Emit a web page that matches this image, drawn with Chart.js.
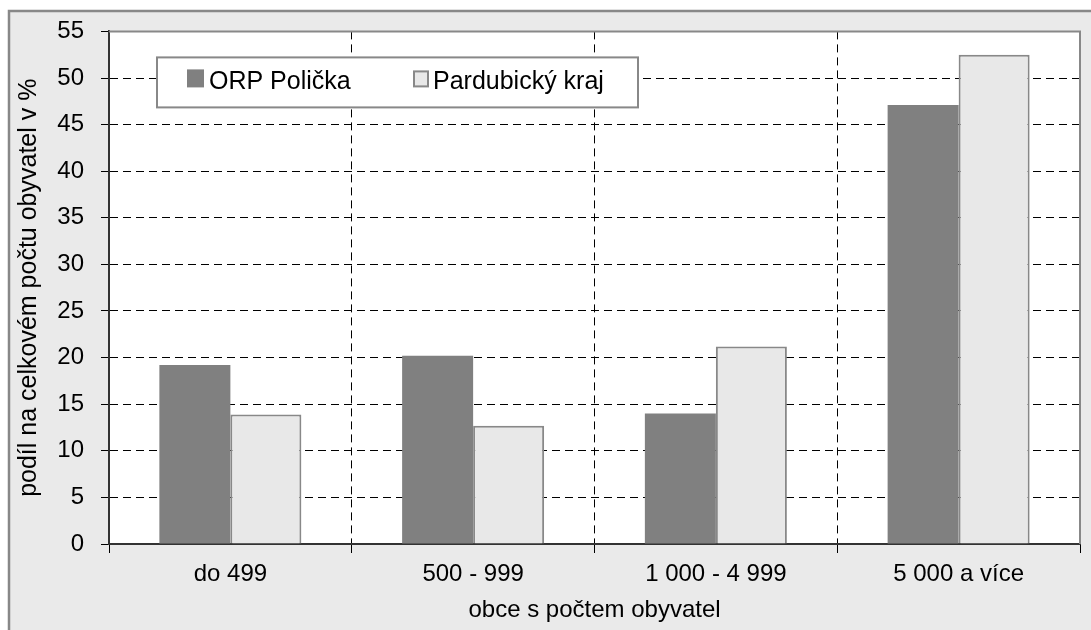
<!DOCTYPE html>
<html>
<head>
<meta charset="utf-8">
<script src="https://cdn.jsdelivr.net/npm/chart.js@4.4.0/dist/chart.umd.min.js"></script>
<style>
  body { margin: 0; background: #fff; }
  #wrap { width: 1091px; height: 630px; }
</style>
</head>
<body>
<div id="wrap"><canvas id="graf"></canvas></div>
<script>
// data z grafu
const kategorie = ['do 499', '500 - 999', '1 000 - 4 999', '5 000 a více'];
const orp_policka = [19.2, 20.2, 14.0, 47.1];
const pardubicky_kraj = [13.9, 12.7, 21.2, 52.5];
const nazvy_rad = ['ORP Polička', 'Pardubický kraj'];
const osa_y_max = 55;
const osa_y_krok = 5;

const pismo = '"Liberation Sans", Arial, sans-serif';
Chart.defaults.font.family = pismo;
Chart.defaults.color = '#000';

// sede pozadi, ramecek a bila plocha grafu
const pozadi = {
    id: 'pozadi',
    beforeDraw(chart) {
        const ctx = chart.ctx;
        const a = chart.chartArea;
        ctx.save();
        ctx.fillStyle = '#fff';
        ctx.fillRect(0, 0, chart.width, chart.height);
        ctx.fillStyle = '#eaeaea';
        ctx.fillRect(8, 10, chart.width, chart.height);
        ctx.strokeStyle = '#888';
        ctx.lineWidth = 2.5;
        ctx.beginPath();
        ctx.moveTo(9, chart.height);
        ctx.lineTo(9, 11);
        ctx.lineTo(chart.width, 11);
        ctx.stroke();
        ctx.fillStyle = '#fff';
        ctx.fillRect(a.left, a.top, a.right - a.left, a.bottom - a.top);
        ctx.restore();
    },
    afterDraw(chart) {
        // horni a prava hrana plochy
        const ctx = chart.ctx;
        const a = chart.chartArea;
        ctx.save();
        ctx.strokeStyle = '#888';
        ctx.lineWidth = 2;
        ctx.beginPath();
        ctx.moveTo(a.left, a.top);
        ctx.lineTo(a.right, a.top);
        ctx.lineTo(a.right, a.bottom);
        ctx.stroke();
        ctx.restore();
    }
};

// legenda uvnitr plochy grafu
const legenda = {
    id: 'legenda',
    afterDatasetsDraw(chart) {
        const ctx = chart.ctx;
        const a = chart.chartArea;
        const x = a.left + 48, y = a.top + 26, w = 481, h = 50;
        ctx.save();
        ctx.fillStyle = '#fff';
        ctx.fillRect(x, y, w, h);
        ctx.strokeStyle = '#888';
        ctx.lineWidth = 2;
        ctx.strokeRect(x, y, w, h);
        ctx.font = '25px ' + pismo;
        ctx.textBaseline = 'middle';
        ctx.fillStyle = '#000';
        const stred = y + h / 2;
        const ds = chart.data.datasets;
        // prvni polozka
        ctx.fillStyle = ds[0].backgroundColor;
        ctx.fillRect(x + 30, stred - 13, 17, 18);
        ctx.fillStyle = '#000';
        ctx.fillText(ds[0].label, x + 52, stred);
        // druha polozka
        ctx.fillStyle = ds[1].backgroundColor;
        ctx.fillRect(x + 257, stred - 11, 14, 15);
        ctx.strokeStyle = ds[1].borderColor;
        ctx.lineWidth = 2;
        ctx.strokeRect(x + 257, stred - 11, 14, 15);
        ctx.fillStyle = '#000';
        ctx.fillText(ds[1].label, x + 276, stred);
        ctx.restore();
    }
};

const ctx_graf = document.getElementById('graf').getContext('2d');
const graf = new Chart(ctx_graf, {
    type: 'bar',
    data: {
        labels: kategorie,
        datasets: [
            {
                label: nazvy_rad[0],
                data: orp_policka,
                backgroundColor: '#808080',
                borderWidth: 0,
                categoryPercentage: 0.585,
                barPercentage: 1.0
            },
            {
                label: nazvy_rad[1],
                data: pardubicky_kraj,
                backgroundColor: '#e8e8e8',
                borderColor: '#888',
                borderWidth: 2,
                categoryPercentage: 0.585,
                barPercentage: 1.0
            }
        ]
    },
    options: {
        responsive: true,
        maintainAspectRatio: false,
        animation: false,
        events: [],
        layout: {
            padding: { left: 0, top: 31, right: 11, bottom: 0 }
        },
        plugins: {
            legend: { display: false },
            tooltip: { enabled: false }
        },
        scales: {
            x: {
                afterFit: (s) => { s.height = 86; },
                grid: {
                    offset: true,
                    color: (c) => (c.index === 0 || c.index === kategorie.length) ? 'rgba(0,0,0,0)' : '#000',
                    tickColor: '#000',
                    lineWidth: 1,
                    tickLength: 9
                },
                // v4: dash plati pro cary mrizky, osa sama zustava plna
                border: { color: '#333', width: 2, dash: [8, 5] },
                ticks: {
                    font: { size: 24 },
                    padding: 7,
                    color: '#000'
                },
                title: {
                    display: true,
                    text: 'obce s počtem obyvatel',
                    font: { size: 24 },
                    padding: { top: 0, bottom: 5 },
                    color: '#000'
                }
            },
            y: {
                min: 0,
                max: osa_y_max,
                afterFit: (s) => { s.width = 109; },
                grid: {
                    color: (c) => (c.tick && (c.tick.value === 0 || c.tick.value === osa_y_max)) ? 'rgba(0,0,0,0)' : '#000',
                    tickColor: '#000',
                    lineWidth: 1,
                    tickLength: 8
                },
                border: { color: '#333', width: 2, dash: [8, 5] },
                ticks: {
                    stepSize: osa_y_krok,
                    font: { size: 24 },
                    padding: 17,
                    color: '#000'
                },
                title: {
                    display: true,
                    text: 'podíl na celkovém počtu obyvatel v %',
                    font: { size: 25 },
                    padding: { top: 14, bottom: 0 },
                    color: '#000'
                }
            }
        }
    },
    plugins: [pozadi, legenda]
});
</script>
</body>
</html>
